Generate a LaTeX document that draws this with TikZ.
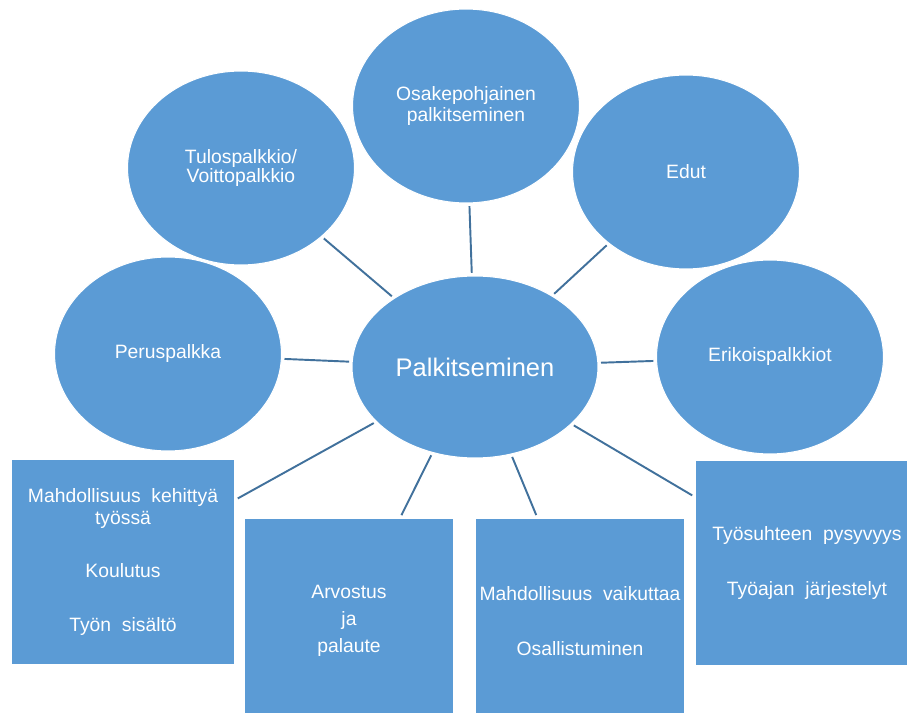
\documentclass[tikz,border=0pt]{standalone}
\usepackage{fontspec}
\setmainfont{Liberation Sans}
\usepackage{tikz}
\usetikzlibrary{shapes,calc}

\definecolor{fillblue}{HTML}{5B9BD5}
\definecolor{lineblue}{HTML}{41719C}

\begin{document}
\begin{tikzpicture}[x=0.02cm,y=-0.02cm,
    bubble/.style={ellipse,draw=white,line width=0.6pt,fill=fillblue,text=white,
      minimum width=4.54cm,minimum height=3.88cm,inner sep=0pt,align=center,
      font=\fontsize{11}{12.5}\selectfont},
    hub/.style={bubble,minimum width=4.92cm,minimum height=3.64cm,
      font=\fontsize{14.5}{17}\selectfont},
    card/.style={rectangle,draw=white,line width=0.6pt,fill=fillblue,text=white,
      minimum width=4.48cm,minimum height=4.12cm,inner sep=0pt,align=center,
      font=\fontsize{11}{12.5}\selectfont},
    link/.style={draw=lineblue,line width=1.1pt,shorten <=1.5pt,shorten >=1.5pt}]
    \useasboundingbox (0,0) rectangle (907,713);
    \def\bubbles{
      \node[hub] (palk) at (475,367) {Palkitseminen};
      \node[bubble] (tulos) at (241,168) {Tulospalkkio/\\[-1.5pt]Voittopalkkio};
      \node[bubble] (osake) at (466,106) {Osakepohjainen\\palkitseminen};
      \node[bubble] (edut) at (686,172) {Edut};
      \node[bubble] (perus) at (168,354) {Peruspalkka};
      \node[bubble] (erikois) at (770,357) {Erikoispalkkiot};
    }
    \def\cards{
      \node[card] (kehitys) at (123,562)
        {Mahdollisuus~~kehittyä\\työssä\\[0.64cm]Koulutus\\[0.64cm]Työn~~sisältö};
      \node[card,minimum width=4.2cm] (arvostus) at (349,621)
        {Arvostus\\[0.1cm]ja\\[0.1cm]palaute};
      \node[card,minimum width=4.18cm] (vaikutus) at (580,621)
        {Mahdollisuus~~vaikuttaa\\[0.66cm]Osallistuminen};
      \node[card] (tyosuhde) at (807,563)
        {Työsuhteen~~pysyvyys\\[0.68cm]Työajan~~järjestelyt};
    }
    \def\links{
      % Connect hub to every item
      \foreach \n in {tulos,osake,edut,perus,erikois,kehitys,arvostus,vaikutus,tyosuhde} {
        \draw[link] (palk) -- (\n);
      }
    }
    \bubbles
    \cards
    \links
\end{tikzpicture}
\end{document}
